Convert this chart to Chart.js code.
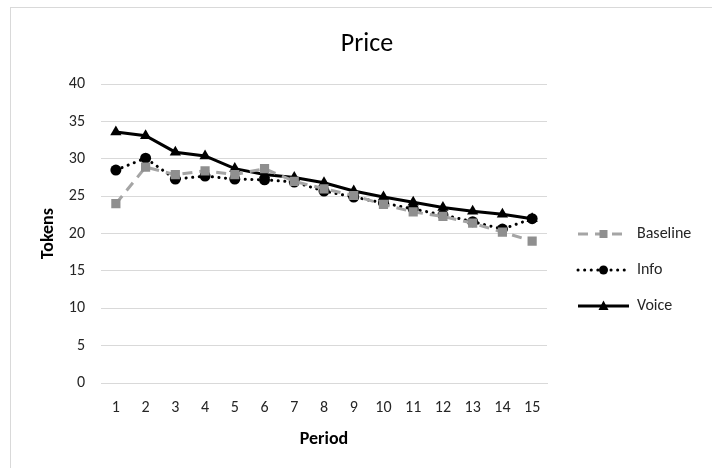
<!DOCTYPE html>
<html>
<head>
<meta charset="utf-8">
<script src="https://cdn.jsdelivr.net/npm/chart.js@4/dist/chart.umd.min.js"></script>
<style>
  html, body { margin: 0; padding: 0; background: #fff; overflow: hidden; }
  #frame { position: absolute; left: 10px; top: 7px; width: 800px; height: 600px; border: 1px solid #d9d9d9; pointer-events: none; }
  #price-chart { position: absolute; left: 0; top: 0; }
</style>
</head>
<body>
<div id="frame"></div>
<canvas id="price-chart" width="712" height="468"></canvas>
<script>
// ----- data -----
const periods = ['1', '2', '3', '4', '5', '6', '7', '8', '9', '10', '11', '12', '13', '14', '15'];
const baselinePrice = [24.0, 28.9, 27.9, 28.4, 27.9, 28.7, 27.0, 26.0, 25.1, 23.9, 22.9, 22.3, 21.4, 20.2, 19.0];
const infoPrice = [28.5, 30.1, 27.3, 27.7, 27.3, 27.2, 26.9, 25.7, 24.9, 24.1, 23.3, 22.5, 21.6, 20.6, 22.0];
const voicePrice = [33.6, 33.1, 30.9, 30.4, 28.7, 27.9, 27.5, 26.8, 25.7, 24.9, 24.2, 23.5, 23.0, 22.6, 22.0];
const yTicks = { min: 0, max: 40, step: 5 };

const FONT = 'Carlito, Lato, "Liberation Sans", sans-serif';

// legend sample: line + marker drawn into a small canvas (used as pointStyle)
function makeSample(ds) {
    const c = document.createElement('canvas');
    c.width = 62; c.height = 16;
    const g = c.getContext('2d');
    g.strokeStyle = ds.borderColor;
    g.lineWidth = ds.borderWidth;
    g.lineCap = ds.borderCapStyle || 'butt';
    g.setLineDash(ds.borderDash || []);
    g.beginPath();
    g.moveTo(11, 8);
    g.lineTo(62, 8);
    g.stroke();
    g.setLineDash([]);
    g.fillStyle = ds.pointBackgroundColor;
    const cx = 36.5, cy = 8;
    g.beginPath();
    if (ds.pointStyle === 'circle') {
        g.arc(cx, cy, 4.5, 0, Math.PI * 2);
    } else if (ds.pointStyle === 'rect') {
        g.rect(cx - 4, cy - 4, 8, 8);
    } else {
        g.moveTo(cx, cy - 5.5);
        g.lineTo(cx + 5, cy + 4);
        g.lineTo(cx - 5, cy + 4);
        g.closePath();
    }
    g.fill();
    return c;
}

const datasets = [
    {
        label: 'Baseline',
        data: baselinePrice,
        borderColor: '#a5a5a5',
        borderWidth: 3,
        borderDash: [10, 7],
        pointStyle: 'rect',
        pointRadius: 6.5,
        pointBackgroundColor: '#8f8f8f',
        pointBorderWidth: 0,
        tension: 0
    },
    {
        label: 'Info',
        data: infoPrice,
        borderColor: '#000',
        borderWidth: 3,
        borderDash: [0.1, 6.5],
        borderCapStyle: 'round',
        pointStyle: 'circle',
        pointRadius: 5.5,
        pointBackgroundColor: '#000',
        pointBorderWidth: 0,
        tension: 0
    },
    {
        label: 'Voice',
        data: voicePrice,
        borderColor: '#000',
        borderWidth: 3,
        pointStyle: 'triangle',
        pointRadius: 6.5,
        pointBackgroundColor: '#000',
        pointBorderWidth: 0,
        tension: 0
    }
];

// fixed width for the legend column so the plot sits where the original does
const fixedLegendWidth = {
    id: 'fixedLegendWidth',
    beforeInit(chart) {
        const legend = chart.legend;
        const fit = legend.fit;
        legend.fit = function () {
            fit.call(this);
            this.width = 165;
        };
    }
};

new Chart(document.getElementById('price-chart'), {
    type: 'line',
    data: { labels: periods, datasets: datasets },
    plugins: [fixedLegendWidth],
    options: {
        responsive: false,
        animation: false,
        layout: { padding: { left: 22, right: 0, top: 0, bottom: 0 } },
        scales: {
            x: {
                offset: true,
                grid: { display: false, drawTicks: false, offset: true },
                border: { display: true, color: '#d9d9d9', width: 1 },
                ticks: { color: '#262626', font: { family: FONT, size: 16 }, padding: 15, maxRotation: 0, autoSkip: false },
                title: { display: true, text: 'Period', color: '#000', font: { family: FONT, size: 18, weight: 'bold' }, padding: { top: 0, bottom: 18 } },
                afterFit(scale) { scale.height = 85; }
            },
            y: {
                min: yTicks.min,
                max: yTicks.max,
                grid: { color: '#d9d9d9', lineWidth: 1, drawTicks: false },
                border: { display: false },
                ticks: { stepSize: yTicks.step, color: '#262626', font: { family: FONT, size: 16 }, padding: 16 },
                title: { display: true, text: 'Tokens', color: '#000', font: { family: FONT, size: 18, weight: 'bold' }, padding: { top: 16, bottom: 0 } },
                afterFit(scale) { scale.width = 79; }
            }
        },
        plugins: {
            title: {
                display: true,
                text: 'Price',
                color: '#000',
                font: { family: FONT, size: 26, weight: 'normal' },
                padding: { top: 29, bottom: 24 }
            },
            legend: {
                position: 'right',
                align: 'center',
                title: { display: true, text: '', font: { family: FONT, size: 10 }, padding: { top: 30, bottom: 30 } },
                labels: {
                    usePointStyle: true,
                    pointStyleWidth: 62,
                    padding: 20,
                    color: '#262626',
                    font: { family: FONT, size: 16 },
                    generateLabels(chart) {
                        return chart.data.datasets.map((ds, i) => ({
                            text: ds.label,
                            pointStyle: makeSample(ds),
                            datasetIndex: i,
                            fontColor: '#262626',
                            hidden: false,
                            lineWidth: 0,
                            strokeStyle: 'transparent',
                            fillStyle: 'transparent'
                        }));
                    }
                }
            },
            tooltip: { enabled: false }
        }
    }
});
</script>
</body>
</html>
